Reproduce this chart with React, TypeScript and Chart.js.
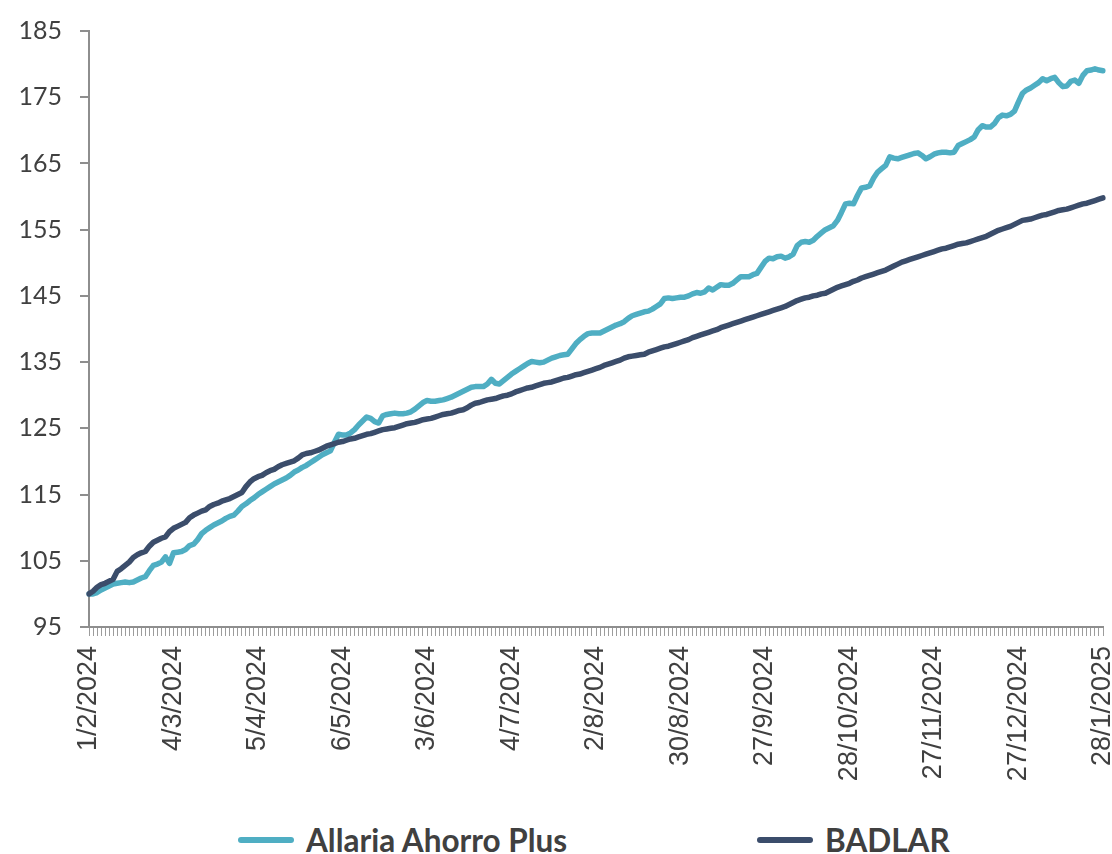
import React, { useEffect, useRef } from "react";
import { Chart, registerables } from "chart.js";

Chart.register(...registerables);

// Tick labels shown every LABEL_STEP categories
const TICK_LABELS = [
  "1/2/2024", "4/3/2024", "5/4/2024", "6/5/2024", "3/6/2024", "4/7/2024", "2/8/2024",
  "30/8/2024", "27/9/2024", "28/10/2024", "27/11/2024", "27/12/2024", "28/1/2025",
];
const LABEL_STEP = 21;

const SERIES_NAMES = ["Allaria Ahorro Plus", "BADLAR"];
const SERIES_COLORS = ["#4FAEC3", "#3B4D6B"];

const ALLARIA = [
  100.0, 100.0, 100.2, 100.6, 100.9, 101.2, 101.5, 101.6, 101.7, 101.8,
  101.7, 101.8, 102.1, 102.4, 102.6, 103.5, 104.3, 104.5, 104.8, 105.6,
  104.6, 106.2, 106.3, 106.4, 106.7, 107.3, 107.5, 108.2, 109.1, 109.6,
  110.0, 110.4, 110.7, 111.0, 111.4, 111.7, 111.9, 112.5, 113.2, 113.6,
  114.1, 114.5, 115.0, 115.4, 115.8, 116.2, 116.6, 116.9, 117.2, 117.5,
  117.9, 118.4, 118.7, 119.1, 119.4, 119.8, 120.2, 120.6, 121.0, 121.3,
  121.6, 122.9, 124.1, 124.0, 124.0, 124.3, 124.8, 125.5, 126.1, 126.7,
  126.5, 126.0, 125.8, 126.9, 127.1, 127.2, 127.3, 127.2, 127.2, 127.3,
  127.5, 127.9, 128.4, 128.9, 129.2, 129.1, 129.1, 129.2, 129.3, 129.5,
  129.7, 130.0, 130.3, 130.6, 130.9, 131.2, 131.3, 131.3, 131.3, 131.7,
  132.4, 131.8, 131.7, 132.2, 132.7, 133.2, 133.6, 134.0, 134.4, 134.8,
  135.1, 135.0, 134.9, 135.0, 135.3, 135.6, 135.8, 136.0, 136.1, 136.2,
  137.0, 137.8, 138.4, 138.9, 139.3, 139.4, 139.4, 139.4, 139.7, 140.0,
  140.3, 140.6, 140.8, 141.1, 141.6, 142.0, 142.2, 142.4, 142.6, 142.7,
  143.0, 143.4, 143.8, 144.6, 144.7, 144.6, 144.7, 144.8, 144.8, 145.0,
  145.3, 145.5, 145.4, 145.6, 146.2, 145.9, 146.3, 146.7, 146.6, 146.6,
  146.9, 147.4, 147.9, 147.9, 147.9, 148.2, 148.4, 149.3, 150.2, 150.7,
  150.6, 150.9, 151.0, 150.7, 150.9, 151.3, 152.6, 153.1, 153.2, 153.1,
  153.4, 154.0, 154.5, 155.0, 155.3, 155.6, 156.4, 157.6, 158.9, 159.0,
  158.9, 160.2, 161.3, 161.4, 161.6, 162.8, 163.7, 164.2, 164.7, 166.0,
  165.8, 165.7, 165.9, 166.1, 166.3, 166.5, 166.6, 166.2, 165.7, 166.0,
  166.4, 166.6, 166.7, 166.7, 166.6, 166.7, 167.7, 168.0, 168.3, 168.6,
  169.0, 170.1, 170.7, 170.5, 170.5, 171.0, 171.9, 172.3, 172.2, 172.4,
  172.9, 174.3, 175.6, 176.1, 176.4, 176.8, 177.2, 177.8, 177.5, 177.8,
  178.0, 177.2, 176.6, 176.7, 177.4, 177.6, 177.1, 178.3, 179.0, 179.1,
  179.3, 179.1, 179.0,
];

const BADLAR = [
  100.0, 100.4, 101.0, 101.4, 101.6, 101.9, 102.2, 103.4, 103.8, 104.3,
  104.8, 105.5, 105.9, 106.2, 106.4, 107.2, 107.8, 108.1, 108.4, 108.6,
  109.4, 109.9, 110.2, 110.5, 110.8, 111.5, 111.9, 112.2, 112.5, 112.7,
  113.2, 113.5, 113.7, 114.0, 114.2, 114.4, 114.7, 115.0, 115.3, 116.2,
  116.9, 117.4, 117.7, 117.9, 118.3, 118.6, 118.8, 119.2, 119.5, 119.7,
  119.9, 120.1, 120.5, 121.0, 121.2, 121.3, 121.5, 121.7, 122.0, 122.3,
  122.5, 122.7, 122.9, 123.0, 123.2, 123.4, 123.5, 123.7, 123.9, 124.1,
  124.2, 124.4, 124.6, 124.8, 124.9, 125.0, 125.1, 125.3, 125.5, 125.7,
  125.8, 125.9, 126.1, 126.3, 126.4, 126.5, 126.7, 126.9, 127.1, 127.2,
  127.3, 127.5, 127.7, 127.8, 128.1, 128.5, 128.8, 128.9, 129.1, 129.3,
  129.4, 129.5, 129.7, 129.9, 130.0, 130.2, 130.5, 130.7, 130.9, 131.1,
  131.2, 131.4, 131.6, 131.8, 131.9, 132.0, 132.2, 132.4, 132.6, 132.7,
  132.9, 133.1, 133.2, 133.4, 133.6, 133.8, 134.0, 134.2, 134.5, 134.7,
  134.9, 135.1, 135.3, 135.6, 135.8, 135.9, 136.0, 136.1, 136.2, 136.5,
  136.7, 136.9, 137.1, 137.3, 137.4, 137.6, 137.8, 138.0, 138.2, 138.4,
  138.7, 138.9, 139.1, 139.3, 139.5, 139.7, 139.9, 140.2, 140.4, 140.6,
  140.8, 141.0, 141.2, 141.4, 141.6, 141.8, 142.0, 142.2, 142.4, 142.6,
  142.8, 143.0, 143.2, 143.4, 143.7, 144.0, 144.3, 144.5, 144.7, 144.8,
  145.0, 145.1, 145.3, 145.4, 145.7, 146.0, 146.3, 146.5, 146.7, 146.9,
  147.2, 147.4, 147.7, 147.9, 148.1, 148.3, 148.5, 148.7, 148.9, 149.2,
  149.5, 149.8, 150.1, 150.3, 150.5, 150.7, 150.9, 151.1, 151.3, 151.5,
  151.7, 151.9, 152.1, 152.2, 152.4, 152.6, 152.8, 152.9, 153.0, 153.2,
  153.4, 153.6, 153.8, 154.0, 154.3, 154.6, 154.9, 155.1, 155.3, 155.5,
  155.8, 156.1, 156.4, 156.5, 156.6, 156.8, 157.0, 157.2, 157.3, 157.5,
  157.7, 157.9, 158.0, 158.1, 158.3, 158.5, 158.7, 158.9, 159.0, 159.2,
  159.4, 159.6, 159.8,
];

const Y_MIN = 95;
const Y_MAX = 185;
const Y_STEP = 10;

const CATEGORIES = ALLARIA.map((_, i) =>
  i % LABEL_STEP === 0 ? TICK_LABELS[i / LABEL_STEP] ?? "" : ""
);

const W = 1112;
const CANVAS_H = 800;
const PLOT_LEFT = 89;
const PLOT_TOP = 31;
const PLOT_BOTTOM = 627;
const PLOT_RIGHT_PAD = 9;
const TEXT = "#404040";
const AXIS = "#8e8e8e";

export default function App() {
  const ref = useRef<HTMLCanvasElement | null>(null);

  useEffect(() => {
    if (!ref.current) return;
    const chart = new Chart(ref.current, {
      type: "line",
      data: {
        labels: CATEGORIES,
        datasets: [
          {
            label: SERIES_NAMES[0],
            data: ALLARIA,
            borderColor: SERIES_COLORS[0],
            backgroundColor: SERIES_COLORS[0],
            borderWidth: 5.5,
            pointRadius: 0,
            tension: 0,
            borderJoinStyle: "round",
            borderCapStyle: "round",
            order: 2,
          },
          {
            label: SERIES_NAMES[1],
            data: BADLAR,
            borderColor: SERIES_COLORS[1],
            backgroundColor: SERIES_COLORS[1],
            borderWidth: 5.5,
            pointRadius: 0,
            tension: 0,
            borderJoinStyle: "round",
            borderCapStyle: "round",
            order: 1,
          },
        ],
      },
      options: {
        animation: false,
        responsive: true,
        maintainAspectRatio: false,
        layout: { padding: { top: PLOT_TOP, right: PLOT_RIGHT_PAD, bottom: 0, left: 0 } },
        plugins: {
          legend: { display: false },
          tooltip: { enabled: false },
        },
        scales: {
          x: {
            type: "category",
            offset: false,
            grid: {
              display: true,
              drawOnChartArea: false,
              drawTicks: true,
              tickLength: 9,
              color: "#9c9c9c",
              lineWidth: 1,
            },
            border: { display: true, color: AXIS, width: 2 },
            ticks: {
              autoSkip: false,
              maxRotation: 90,
              minRotation: 90,
              padding: 10,
              color: TEXT,
              font: { family: "'Liberation Sans', Arial, sans-serif", size: 27 },
            },
            afterFit: (s: any) => {
              s.paddingLeft = 0;
              s.paddingRight = 0;
              s.height = CANVAS_H - PLOT_BOTTOM;
            },
          },
          y: {
            min: Y_MIN,
            max: Y_MAX,
            grid: {
              display: true,
              drawOnChartArea: false,
              drawTicks: true,
              tickLength: 9,
              color: AXIS,
              lineWidth: 2,
            },
            border: { display: true, color: AXIS, width: 2 },
            ticks: {
              stepSize: Y_STEP,
              padding: 18,
              color: TEXT,
              font: { family: "Lato, sans-serif", size: 25 },
            },
            afterFit: (s: any) => {
              s.paddingTop = 0;
              s.paddingBottom = 0;
              s.width = PLOT_LEFT;
            },
          },
        },
      },
    });
    return () => chart.destroy();
  }, []);

  const legendItem = (i: number, left: number) => (
    <div
      key={i}
      style={{
        position: "absolute",
        left,
        top: 822,
        height: 36,
        display: "flex",
        alignItems: "center",
        whiteSpace: "nowrap",
      }}
    >
      <div
        style={{
          width: 56,
          height: 6,
          borderRadius: 3,
          background: SERIES_COLORS[i],
          marginRight: 12,
        }}
      />
      <span
        style={{
          fontFamily: "Lato, sans-serif",
          fontWeight: 700,
          fontSize: 31.5,
          color: TEXT,
          lineHeight: "36px",
        }}
      >
        {SERIES_NAMES[i]}
      </span>
    </div>
  );

  return (
    <div style={{ position: "absolute", left: 0, top: 0, width: W, height: 854, background: "#fff" }}>
      <div style={{ position: "relative", width: W, height: CANVAS_H }}>
        <canvas ref={ref} />
      </div>
      {legendItem(0, 238)}
      {legendItem(1, 757)}
    </div>
  );
}
